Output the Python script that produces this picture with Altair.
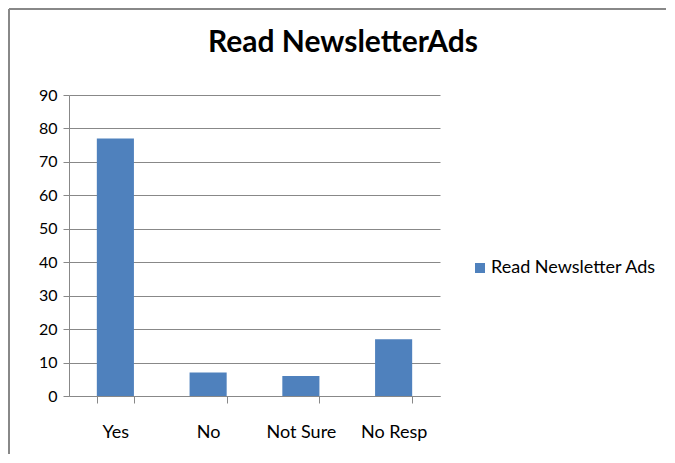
import altair as alt
import pandas as pd

categories = ["Yes", "No", "Not Sure", "No Resp"]
values = [77, 7, 6, 17]
series_name = "Read Newsletter Ads"
title_text = "Read NewsletterAds"

df = pd.DataFrame({"cat": categories, "val": values, "series": [series_name] * 4})
one = pd.DataFrame({"t": [title_text]})

FONT = "Lato"

bars = alt.Chart(df).mark_bar(color="#4F81BD").encode(
    x=alt.X("cat:N", sort=categories, title=None,
            scale=alt.Scale(paddingInner=0.6, paddingOuter=0.3),
            axis=alt.Axis(labelAngle=0, labelPadding=20, tickBand="extent",
                          tickSize=7, domainColor="#888888", tickColor="#888888",
                          labelFont=FONT, labelFontSize=18, labelColor="#000000", grid=False)),
    y=alt.Y("val:Q", title=None,
            scale=alt.Scale(domain=[0, 90], nice=False),
            axis=alt.Axis(values=list(range(0, 91, 10)), tickSize=6, labelPadding=6,
                          domainColor="#888888", tickColor="#888888", gridColor="#888888",
                          labelFont=FONT, labelFontSize=16, labelColor="#000000")),
    fill=alt.Fill("series:N", scale=alt.Scale(range=["#4F81BD"]),
                  legend=alt.Legend(title=None, orient="none", legendX=402, legendY=164,
                                    symbolType="square", symbolSize=100, labelOffset=2,
                                    labelLimit=300,
                                    labelFont=FONT, labelFontSize=18, labelColor="#000000",
                                    symbolStrokeWidth=0)),
)

title_mark = alt.Chart(one).mark_text(
    font=FONT, fontSize=30, fontWeight="bold", color="#000000",
    align="center", baseline="alphabetic").encode(
    text="t:N", x=alt.value(274), y=alt.value(-43))

frame_top = alt.Chart(one).mark_rule(color="#888888", strokeWidth=2).encode(
    x=alt.value(-60), x2=alt.value(610), y=alt.value(-86))
frame_left = alt.Chart(one).mark_rule(color="#888888", strokeWidth=2).encode(
    x=alt.value(-60), y=alt.value(-86), y2=alt.value(360))

chart = alt.layer(bars, title_mark, frame_top, frame_left).properties(
    width=371, height=301,
    autosize=alt.AutoSizeParams(type="none"),
    padding={"left": 61, "top": 87, "right": 226, "bottom": 58},
).configure_view(stroke=None)

chart.save("out.html", embed_options={"renderer": "svg", "actions": False})
